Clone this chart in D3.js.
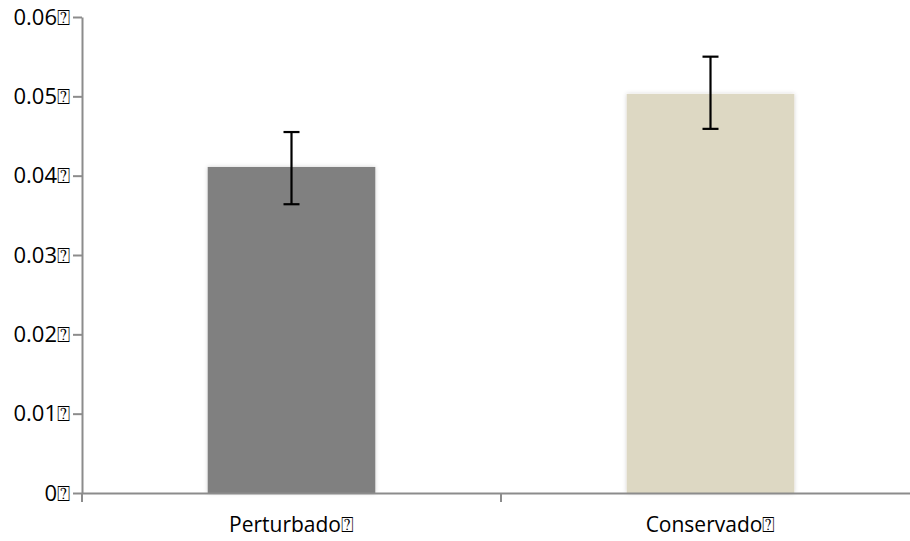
<!DOCTYPE html>
<html><head><meta charset="utf-8">
<script src="https://cdn.jsdelivr.net/npm/d3@7"></script>
<style>body{margin:0;background:#fff;} text{font-family:"Open Sans","Noto Sans",sans-serif;}</style>
</head><body>
<svg id="c" width="910" height="541"></svg>
<script>
const categories = ["Perturbado", "Conservado"];
const values = [0.0411, 0.0503];
const errLow = [0.0364, 0.0459];
const errHigh = [0.0455, 0.0550];
const colors = ["#808080", "#ddd8c3"];
const yTicks = [0, 0.01, 0.02, 0.03, 0.04, 0.05, 0.06];
const yTickLabels = ["0", "0.01", "0.02", "0.03", "0.04", "0.05", "0.06"];
const missing = "\u2370";

const svg = d3.select("#c");
const defs = svg.append("defs");
const f = defs.append("filter").attr("id","sh").attr("x","-10%").attr("y","-10%").attr("width","120%").attr("height","120%");
f.append("feDropShadow").attr("dx",0).attr("dy",0).attr("stdDeviation",2).attr("flood-color","#000").attr("flood-opacity",0.18);

const x = d3.scaleBand().domain(categories).range([82, 920]).paddingInner(0).paddingOuter(0);
const y = d3.scaleLinear().domain([0, 0.06]).range([493, 17]);
const bw = x.bandwidth() * 0.40;

// bars
svg.append("g").selectAll("rect").data(categories).join("rect")
  .attr("x", d => x(d) + x.bandwidth()/2 - bw/2)
  .attr("y", (d,i) => y(values[i]))
  .attr("width", bw)
  .attr("height", (d,i) => y(0) - y(values[i]))
  .attr("fill", (d,i) => colors[i])
  .attr("filter","url(#sh)");

// axes
const axisColor = "#8c8c8c";
const yAxis = svg.append("g").attr("transform","translate(82,0)")
  .call(d3.axisLeft(y).tickValues(yTicks).tickFormat((d,i)=>yTickLabels[i] + missing).tickSize(9).tickPadding(3).tickSizeOuter(0));
yAxis.select(".domain").attr("stroke",axisColor).attr("stroke-width",2);
yAxis.selectAll(".tick line").attr("stroke",axisColor).attr("stroke-width",2);
yAxis.selectAll(".tick text").attr("font-size",22).attr("fill","#000");

const xAxis = svg.append("g").attr("transform","translate(0,493)")
  .call(d3.axisBottom(x).tickSize(0).tickPadding(24).tickSizeOuter(0).tickFormat(d => d + missing));
xAxis.select(".domain").attr("stroke",axisColor).attr("stroke-width",2);
xAxis.selectAll(".tick text").attr("font-size",21).attr("fill","#000");
// band boundary ticks
svg.append("g").selectAll("line").data([categories[0], categories[1]]).join("line")
  .attr("x1", d => x(d)).attr("x2", d => x(d))
  .attr("y1", 493).attr("y2", 502)
  .attr("stroke", axisColor).attr("stroke-width", 2);

// error bars
const eg = svg.append("g").attr("stroke","#000").attr("stroke-width",2.2);
categories.forEach((c,i) => {
  const cx = x(c) + x.bandwidth()/2;
  eg.append("line").attr("x1",cx).attr("x2",cx).attr("y1",y(errHigh[i])).attr("y2",y(errLow[i]));
  eg.append("line").attr("x1",cx-8).attr("x2",cx+8).attr("y1",y(errHigh[i])).attr("y2",y(errHigh[i]));
  eg.append("line").attr("x1",cx-8).attr("x2",cx+8).attr("y1",y(errLow[i])).attr("y2",y(errLow[i]));
});
</script>
</body></html>
